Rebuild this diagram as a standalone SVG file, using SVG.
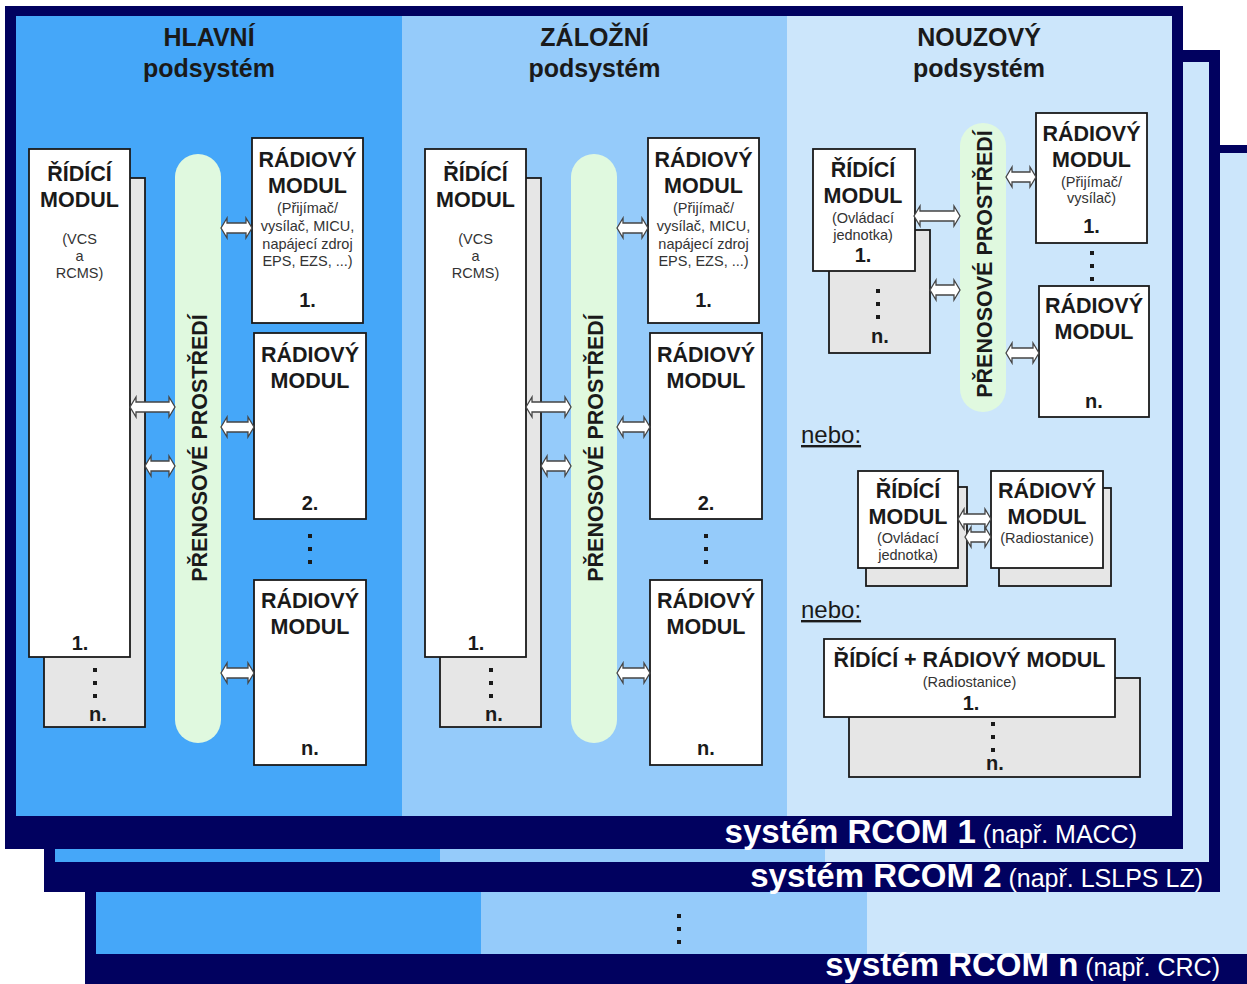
<svg xmlns="http://www.w3.org/2000/svg" width="1247" height="984" viewBox="0 0 1247 984">
  <defs>
    <style>
      text { font-family: "Liberation Sans", Arial, sans-serif; }
      .hd { font-weight: bold; font-size: 25px; fill: #1a1a1a; text-anchor: middle; }
      .bt { font-weight: bold; font-size: 21.5px; fill: #1a1a1a; text-anchor: middle; }
      .sm { font-size: 14.5px; fill: #333; text-anchor: middle; }
      .nm { font-weight: bold; font-size: 20px; fill: #1a1a1a; text-anchor: middle; }
      .nebo { font-size: 24px; fill: #1a1a1a; text-decoration: underline; }
      .band { fill: #fff; text-anchor: end; }
      .band .big { font-weight: bold; font-size: 33px; }
      .band .ex { font-size: 25px; }
      .box { fill: #fff; stroke: #1a1a1a; stroke-width: 1.8; }
      .back { fill: #e6e6e6; stroke: #1a1a1a; stroke-width: 1.8; }
      .pill { fill: #e0f9df; }
      .arr { fill: #fff; stroke: #444; stroke-width: 1.3; stroke-linejoin: miter; }
      .dot { fill: #1a1a1a; }
      .navy { fill: #01015f; }
      .c1 { fill: #45a7f9; }
      .c2 { fill: #95cbfa; }
      .c3 { fill: #cce6fb; }
    </style>
    <!-- vertical ellipsis, centred on its middle dot -->
    <g id="vdots">
      <rect class="dot" x="-2" y="-15" width="4" height="4"/>
      <rect class="dot" x="-2" y="-2" width="4" height="4"/>
      <rect class="dot" x="-2" y="11" width="4" height="4"/>
    </g>
  </defs>

  <rect width="1247" height="984" fill="#fff"/>

  <!-- system RCOM n (rearmost frame) -->
  <g id="frame-rcom-n">
    <rect class="navy" x="85" y="145" width="1175" height="845"/>
    <rect class="c1" x="96" y="153" width="385" height="801"/>
    <rect class="c2" x="481" y="153" width="386" height="801"/>
    <rect class="c3" x="867" y="153" width="390" height="801"/>
    <use href="#vdots" x="679" y="929"/>
    <text class="band" x="1220" y="976"><tspan class="big">systém RCOM n</tspan><tspan class="ex"> (např. CRC)</tspan></text>
  </g>

  <!-- system RCOM 2 -->
  <g id="frame-rcom-2">
    <rect class="navy" x="44" y="50" width="1176" height="842"/>
    <rect class="c1" x="55" y="62" width="385" height="800"/>
    <rect class="c2" x="440" y="62" width="385" height="800"/>
    <rect class="c3" x="825" y="62" width="384" height="800"/>
    <text class="band" x="1203" y="887"><tspan class="big">systém RCOM 2</tspan><tspan class="ex"> (např. LSLPS LZ)</tspan></text>
  </g>

  <!-- system RCOM 1 (front frame) -->
  <g id="frame-rcom-1">
    <rect class="navy" x="5" y="6" width="1178" height="843"/>
    <rect class="c1" x="16" y="16" width="386" height="800"/>
    <rect class="c2" x="402" y="16" width="385" height="800"/>
    <rect class="c3" x="787" y="16" width="385" height="800"/>
    <text class="band" x="1137" y="843"><tspan class="big">systém RCOM 1</tspan><tspan class="ex"> (např. MACC)</tspan></text>
  </g>

  <!-- subsystem headings -->
  <g id="headings">
    <text class="hd" x="209" y="46">HLAVNÍ</text>
    <text class="hd" x="209" y="77">podsystém</text>
    <text class="hd" x="594.5" y="46">ZÁLOŽNÍ</text>
    <text class="hd" x="594.5" y="77">podsystém</text>
    <text class="hd" x="979" y="46">NOUZOVÝ</text>
    <text class="hd" x="979" y="77">podsystém</text>
  </g>

  <!-- ===== HLAVNÍ subsystem ===== -->
  <g id="hl-ridici">
    <rect class="back" x="44" y="178" width="101" height="549"/>
    <use href="#vdots" x="95" y="683"/>
    <text class="nm" x="98" y="721">n.</text>
    <rect class="box" x="29" y="149" width="101" height="508"/>
    <text class="bt" x="79.5" y="181">ŘÍDÍCÍ</text>
    <text class="bt" x="79.5" y="207">MODUL</text>
    <text class="sm" x="79.5" y="244">(VCS</text>
    <text class="sm" x="79.5" y="261">a</text>
    <text class="sm" x="79.5" y="278">RCMS)</text>
    <text class="nm" x="80" y="650">1.</text>
  </g>
  <g id="hl-prenos">
    <rect class="pill" x="175" y="154" width="46" height="589" rx="23"/>
    <text class="bt" transform="translate(206.5,448) rotate(-90)">PŘENOSOVÉ PROSTŘEDÍ</text>
  </g>
  <g id="hl-radio-1">
    <rect class="box" x="252" y="138" width="111" height="185"/>
    <text class="bt" x="307.5" y="167">RÁDIOVÝ</text>
    <text class="bt" x="307.5" y="193">MODUL</text>
    <text class="sm" x="307.5" y="213">(Přijímač/</text>
    <text class="sm" x="307.5" y="231">vysílač, MICU,</text>
    <text class="sm" x="307.5" y="249">napájecí zdroj</text>
    <text class="sm" x="307.5" y="266">EPS, EZS, ...)</text>
    <text class="nm" x="307.5" y="307">1.</text>
  </g>
  <g id="hl-radio-2">
    <rect class="box" x="254" y="333" width="112" height="186"/>
    <text class="bt" x="310" y="362">RÁDIOVÝ</text>
    <text class="bt" x="310" y="388">MODUL</text>
    <text class="nm" x="310" y="510">2.</text>
    <use href="#vdots" x="310" y="549"/>
  </g>
  <g id="hl-radio-n">
    <rect class="box" x="254" y="580" width="112" height="185"/>
    <text class="bt" x="310" y="608">RÁDIOVÝ</text>
    <text class="bt" x="310" y="634">MODUL</text>
    <text class="nm" x="310" y="755">n.</text>
  </g>

  <!-- ===== ZÁLOŽNÍ subsystem (same layout, shifted) ===== -->
  <g id="za-ridici" transform="translate(396,0)">
    <rect class="back" x="44" y="178" width="101" height="549"/>
    <use href="#vdots" x="95" y="683"/>
    <text class="nm" x="98" y="721">n.</text>
    <rect class="box" x="29" y="149" width="101" height="508"/>
    <text class="bt" x="79.5" y="181">ŘÍDÍCÍ</text>
    <text class="bt" x="79.5" y="207">MODUL</text>
    <text class="sm" x="79.5" y="244">(VCS</text>
    <text class="sm" x="79.5" y="261">a</text>
    <text class="sm" x="79.5" y="278">RCMS)</text>
    <text class="nm" x="80" y="650">1.</text>
  </g>
  <g id="za-prenos" transform="translate(396,0)">
    <rect class="pill" x="175" y="154" width="46" height="589" rx="23"/>
    <text class="bt" transform="translate(206.5,448) rotate(-90)">PŘENOSOVÉ PROSTŘEDÍ</text>
  </g>
  <g id="za-radio-1" transform="translate(396,0)">
    <rect class="box" x="252" y="138" width="111" height="185"/>
    <text class="bt" x="307.5" y="167">RÁDIOVÝ</text>
    <text class="bt" x="307.5" y="193">MODUL</text>
    <text class="sm" x="307.5" y="213">(Přijímač/</text>
    <text class="sm" x="307.5" y="231">vysílač, MICU,</text>
    <text class="sm" x="307.5" y="249">napájecí zdroj</text>
    <text class="sm" x="307.5" y="266">EPS, EZS, ...)</text>
    <text class="nm" x="307.5" y="307">1.</text>
  </g>
  <g id="za-radio-2" transform="translate(396,0)">
    <rect class="box" x="254" y="333" width="112" height="186"/>
    <text class="bt" x="310" y="362">RÁDIOVÝ</text>
    <text class="bt" x="310" y="388">MODUL</text>
    <text class="nm" x="310" y="510">2.</text>
    <use href="#vdots" x="310" y="549"/>
  </g>
  <g id="za-radio-n" transform="translate(396,0)">
    <rect class="box" x="254" y="580" width="112" height="185"/>
    <text class="bt" x="310" y="608">RÁDIOVÝ</text>
    <text class="bt" x="310" y="634">MODUL</text>
    <text class="nm" x="310" y="755">n.</text>
  </g>

  <!-- ===== NOUZOVÝ subsystem ===== -->
  <g id="no-ridici">
    <rect class="back" x="829" y="230" width="101" height="123"/>
    <use href="#vdots" x="878" y="304"/>
    <text class="nm" x="880" y="343">n.</text>
    <rect class="box" x="813" y="149" width="102" height="122"/>
    <text class="bt" x="863" y="177">ŘÍDÍCÍ</text>
    <text class="bt" x="863" y="203">MODUL</text>
    <text class="sm" x="863" y="223">(Ovládací</text>
    <text class="sm" x="863" y="240">jednotka)</text>
    <text class="nm" x="863" y="262">1.</text>
  </g>
  <g id="no-prenos">
    <rect class="pill" x="960" y="123" width="46" height="289" rx="23"/>
    <text class="bt" transform="translate(991.5,264) rotate(-90)">PŘENOSOVÉ PROSTŘEDÍ</text>
  </g>
  <g id="no-radio-1">
    <rect class="box" x="1036" y="113" width="111" height="130"/>
    <text class="bt" x="1091.5" y="141">RÁDIOVÝ</text>
    <text class="bt" x="1091.5" y="167">MODUL</text>
    <text class="sm" x="1091.5" y="187">(Přijímač/</text>
    <text class="sm" x="1091.5" y="203">vysílač)</text>
    <text class="nm" x="1091.5" y="233">1.</text>
    <use href="#vdots" x="1092" y="266"/>
  </g>
  <g id="no-radio-n">
    <rect class="box" x="1039" y="286" width="110" height="131"/>
    <text class="bt" x="1094" y="313">RÁDIOVÝ</text>
    <text class="bt" x="1094" y="339">MODUL</text>
    <text class="nm" x="1094" y="408">n.</text>
  </g>

  <text class="nebo" x="801" y="443">nebo:</text>

  <g id="alt1-ridici">
    <rect class="back" x="866" y="487" width="101" height="99"/>
    <rect class="box" x="858" y="471" width="100" height="97"/>
    <text class="bt" x="908" y="498">ŘÍDÍCÍ</text>
    <text class="bt" x="908" y="524">MODUL</text>
    <text class="sm" x="908" y="543">(Ovládací</text>
    <text class="sm" x="908" y="560">jednotka)</text>
  </g>
  <g id="alt1-radio">
    <rect class="back" x="999" y="488" width="112" height="98"/>
    <rect class="box" x="991" y="471" width="112" height="97"/>
    <text class="bt" x="1047" y="498">RÁDIOVÝ</text>
    <text class="bt" x="1047" y="524">MODUL</text>
    <text class="sm" x="1047" y="543">(Radiostanice)</text>
  </g>

  <text class="nebo" x="801" y="618">nebo:</text>

  <g id="alt2-ridici-radio">
    <rect class="back" x="849" y="678" width="291" height="99"/>
    <use href="#vdots" x="993" y="737"/>
    <text class="nm" x="995" y="770">n.</text>
    <rect class="box" x="824" y="639" width="291" height="78"/>
    <text class="bt" x="969.5" y="667">ŘÍDÍCÍ + RÁDIOVÝ MODUL</text>
    <text class="sm" x="969.5" y="687">(Radiostanice)</text>
    <text class="nm" x="971" y="710">1.</text>
  </g>

  <!-- double-headed links -->
  <g id="connectors">
    <path class="arr" d="M221 228 L227 218 L227 223 L246 223 L246 218 L252 228 L246 238 L246 233 L227 233 L227 238 Z"/>
    <path class="arr" d="M130 407 L136 397 L136 402 L169 402 L169 397 L175 407 L169 417 L169 412 L136 412 L136 417 Z"/>
    <path class="arr" d="M145 466 L151 456 L151 461 L169 461 L169 456 L175 466 L169 476 L169 471 L151 471 L151 476 Z"/>
    <path class="arr" d="M221 427 L227 417 L227 422 L248 422 L248 417 L254 427 L248 437 L248 432 L227 432 L227 437 Z"/>
    <path class="arr" d="M221 673 L227 663 L227 668 L248 668 L248 663 L254 673 L248 683 L248 678 L227 678 L227 683 Z"/>
    <g transform="translate(396,0)">
      <path class="arr" d="M221 228 L227 218 L227 223 L246 223 L246 218 L252 228 L246 238 L246 233 L227 233 L227 238 Z"/>
      <path class="arr" d="M130 407 L136 397 L136 402 L169 402 L169 397 L175 407 L169 417 L169 412 L136 412 L136 417 Z"/>
      <path class="arr" d="M145 466 L151 456 L151 461 L169 461 L169 456 L175 466 L169 476 L169 471 L151 471 L151 476 Z"/>
      <path class="arr" d="M221 427 L227 417 L227 422 L248 422 L248 417 L254 427 L248 437 L248 432 L227 432 L227 437 Z"/>
      <path class="arr" d="M221 673 L227 663 L227 668 L248 668 L248 663 L254 673 L248 683 L248 678 L227 678 L227 683 Z"/>
    </g>
    <path class="arr" d="M914 216 L920 206 L920 211 L954 211 L954 206 L960 216 L954 226 L954 221 L920 221 L920 226 Z"/>
    <path class="arr" d="M930 290 L936 280 L936 285 L954 285 L954 280 L960 290 L954 300 L954 295 L936 295 L936 300 Z"/>
    <path class="arr" d="M1006 177 L1012 167 L1012 172 L1030 172 L1030 167 L1036 177 L1030 187 L1030 182 L1012 182 L1012 187 Z"/>
    <path class="arr" d="M1006 353 L1012 343 L1012 348 L1033 348 L1033 343 L1039 353 L1033 363 L1033 358 L1012 358 L1012 363 Z"/>
    <path class="arr" d="M965 537 L971 527 L971 532 L985 532 L985 527 L991 537 L985 547 L985 542 L971 542 L971 547 Z"/>
    <path class="arr" d="M958 519 L964 509 L964 514 L985 514 L985 509 L991 519 L985 529 L985 524 L964 524 L964 529 Z"/>
  </g>
</svg>
